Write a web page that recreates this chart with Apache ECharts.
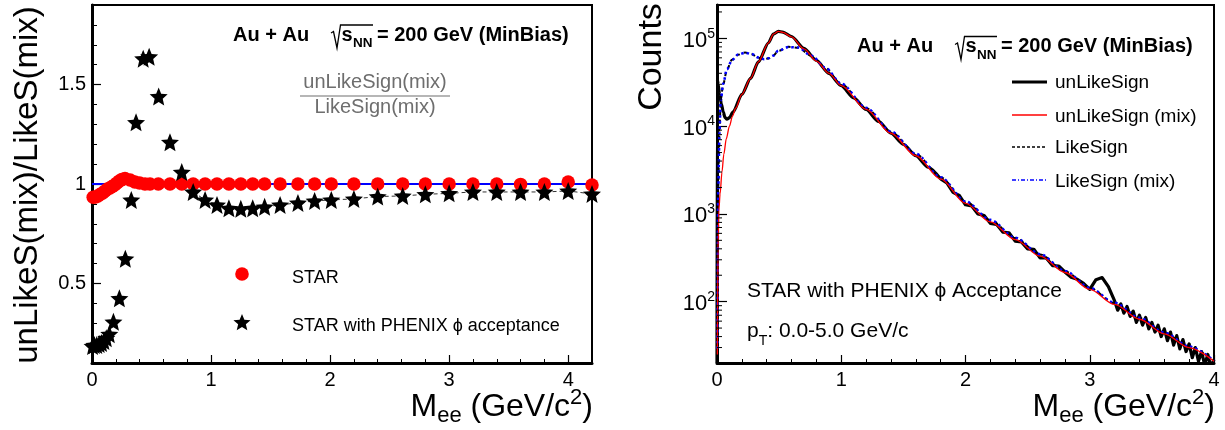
<!DOCTYPE html>
<html><head><meta charset="utf-8">
<script src="https://cdn.jsdelivr.net/npm/echarts@6/dist/echarts.min.js"></script>
<style>html,body{margin:0;padding:0;background:#fff;}#c{width:1225px;height:430px;}</style>
</head><body><div id="c"></div>
<script>
// ---------- LEFT PANEL: unLikeS(mix)/LikeS(mix) ----------
const starMass  = [0.01,0.03,0.05,0.07,0.09,0.11,0.13,0.15,0.17,0.19,0.21,0.23,0.25,0.277,0.32,0.36,0.40,0.445,0.487,0.557,0.655,0.754,0.85,0.95,1.05,1.15,1.25,1.35,1.45,1.58,1.73,1.87,2.01,2.2,2.4,2.61,2.8,3.0,3.2,3.4,3.6,3.8,4.0,4.2];
const starRatio = [0.933,0.935,0.94,0.948,0.955,0.965,0.975,0.98,0.987,0.995,1.005,1.015,1.022,1.028,1.02,1.01,1.005,1.0,1.0,1.0,1.0,1.0,1.0,1.0,1.0,1.0,1.0,1.0,1.0,1.0,1.0,1.0,1.0,1.0,1.0,1.0,1.0,1.0,1.0,1.0,0.998,1.0,1.01,0.995];
const phxMass  = [0.005,0.02,0.04,0.06,0.08,0.10,0.12,0.145,0.18,0.23,0.28,0.33,0.37,0.43,0.48,0.56,0.655,0.754,0.85,0.95,1.05,1.15,1.25,1.35,1.45,1.58,1.73,1.87,2.01,2.2,2.4,2.61,2.8,3.0,3.2,3.4,3.6,3.8,4.0,4.2];
const phxRatio = [0.185,0.19,0.19,0.195,0.2,0.21,0.225,0.245,0.307,0.425,0.624,0.92,1.31,1.63,1.64,1.44,1.21,1.06,0.96,0.92,0.895,0.878,0.875,0.878,0.885,0.895,0.905,0.915,0.92,0.925,0.937,0.94,0.948,0.953,0.96,0.96,0.96,0.96,0.965,0.95];
const fitMass  = [0, 4.2];
const fitRatio = [1.0, 1.0];
const leftXMajor = [0,1,2,3,4];
const leftXMinor = [0.2,0.4,0.6,0.8,1.2,1.4,1.6,1.8,2.2,2.4,2.6,2.8,3.2,3.4,3.6,3.8];
const leftYMajor = [0.5,1,1.5];
const leftYMinor = [0.2,0.3,0.4,0.6,0.7,0.8,0.9,1.1,1.2,1.3,1.4,1.6,1.7,1.8];

// ---------- RIGHT PANEL: Counts vs Mee ----------
const unlikeMass = [0,0.002,0.01,0.02,0.035,0.05,0.065,0.08,0.1,0.13,0.2,0.27,0.333,0.414,0.454,0.494,0.53,0.6,0.7,0.8,0.9,1.0,1.1,1.2,1.3,1.4,1.5,1.6,1.7,1.8];
const unlikeCounts = [20,34000,30000,23000,18000,14500,12500,12000,12500,14500,23000,35000,54000,89000,112000,120000,118000,105000,77000,56000,40000,29000,21000,15500,11300,8300,6200,4600,3400,2500];
const unlikeTailMass = [1.8,1.85,1.9,1.95,2.0,2.05,2.1,2.15,2.2,2.25,2.3,2.35,2.4,2.45,2.5,2.55,2.6,2.65,2.7,2.75,2.8,2.85,2.9,2.95,3.0,3.05,3.1,3.15,
  3.2,3.225,3.25,3.275,3.3,3.325,3.35,3.375,3.4,3.425,3.45,3.475,3.5,3.525,3.55,3.575,3.6,3.625,3.65,3.675,3.7,3.725,3.75,3.775,3.8,3.825,3.85,3.875,3.9,3.925,3.95,3.975,4.0];
const unlikeTailCounts = [2500,2250,1760,1620,1270,1230,1000,960,780,760,620,610,490,480,400,395,315,315,258,255,218,190,180,162,138,178,188,148,
  102,80,94,74,88,68,78,58,70,54,66,49,58,45,54,40,49,36,45,32,41,29,37,27,33,23,30,21,27,19,25,18,22];
const mixMass   = [0.003,0.008,0.015,0.025,0.04,0.055,0.075,0.1,0.125,0.15,0.2,0.27,0.333,0.414,0.454,0.494,0.53,0.6,0.7,0.8,0.9,1.0,1.2,1.4,1.6,1.8,2.0,2.2,2.4,2.6,2.8,3.0,3.2,3.4,3.6,3.8,4.0];
const mixCounts = [25,400,1100,1700,3000,4800,7200,10000,13000,16000,23000,35000,54000,89000,112000,120000,117000,104000,76000,55000,40000,29000,15500,8300,4600,2500,1320,810,510,330,215,138,93,63,43,30,21];
const likeMass  = [0.003,0.01,0.02,0.03,0.05,0.08,0.12,0.17,0.226,0.28,0.333,0.38,0.414,0.45,0.494,0.575,0.656,0.76,0.87,1.0,1.2,1.4,1.6,1.8,2.0,2.2,2.4,2.6,2.8,3.0,3.2,3.4,3.6,3.8,4.0];
const likeCounts    = [30,2000,9000,20000,30000,44000,57000,65000,69000,66000,60000,58000,59000,63000,72000,80000,78000,63000,46000,30000,16000,8600,4800,2600,1380,850,530,345,222,143,96,65,44,30.5,21];
const likeMixCounts = [28,1800,8500,19500,30500,44500,56500,65500,68500,66500,60500,58000,59500,63500,72500,79500,78500,63500,46500,30500,16200,8700,4850,2620,1390,855,535,348,224,144,97,65.5,44.5,30.8,21.2];
const rightYMinor = [30,40,50,60,70,80,90,200,300,400,500,600,700,800,900,2000,3000,4000,5000,6000,7000,8000,9000,20000,30000,40000,50000,60000,70000,80000,90000,200000];

const FONT = "'Liberation Sans', Arial, Helvetica, sans-serif";
const pairs = (xs, ys) => xs.map((x, i) => [x, ys[i]]);
const STAR_PTS = [[50,0],[63.2,31.8],[97.6,34.5],[71.4,57],[79.4,90.5],[50,72.5],[20.6,90.5],[28.6,57],[2.4,34.5],[36.8,31.8]];
const STAR_D = 'M' + STAR_PTS.map(p => p[0] + ',' + p[1]).join(' L') + ' Z';

const chart = echarts.init(document.getElementById('c'), null, {renderer: 'canvas'});

function majorLin(gridIndex, min, max, ticks, len, pos, margin) {
  return {
    type: 'value', gridIndex, min, max, position: pos,
    axisLine: {show: true, onZero: false, lineStyle: {color: '#000', width: 3}},
    axisTick: {show: true, inside: true, length: len, customValues: ticks, lineStyle: {color: '#000', width: 1.2}},
    axisLabel: {show: true, customValues: ticks, formatter: v => String(v), fontSize: 20, fontFamily: FONT, color: '#000', margin: margin},
    splitLine: {show: false}
  };
}
function minorLin(gridIndex, min, max, ticks, len, pos) {
  return {
    type: 'value', gridIndex, min, max, position: pos,
    axisLine: {show: false, onZero: false},
    axisTick: {show: true, inside: true, length: len, customValues: ticks, lineStyle: {color: '#000', width: 1}},
    axisLabel: {show: false}, splitLine: {show: false}
  };
}

function header(dx, dy) {
  const t = (x, y, text, size) => ({type: 'text', x: x + dx, y: y + dy, z: 10,
    style: {text, fontSize: size, fontWeight: 'bold', fontFamily: FONT, fill: '#000', align: 'left', verticalAlign: 'middle'}});
  return [
    t(233, 35, 'Au + Au', 20),
    {type: 'polyline', z: 10, shape: {points: [[331 + dx, 33 + dy], [333.5 + dx, 31.5 + dy], [337 + dx, 48 + dy], [340.5 + dx, 25 + dy], [373 + dx, 25 + dy]]},
      style: {stroke: '#000', lineWidth: 1.3, fill: null}},
    t(341.5, 35, 's', 20),
    t(353, 43.3, 'NN', 13.5),
    t(377, 35, '= 200 GeV (MinBias)', 20)
  ];
}
const titleRich = {
  m: {fontSize: 32, lineHeight: 40, fontFamily: FONT, fill: '#000', verticalAlign: 'middle'},
  s: {fontSize: 22, lineHeight: 22, fontFamily: FONT, fill: '#000', verticalAlign: 'bottom'},
  p: {fontSize: 22, lineHeight: 22, fontFamily: FONT, fill: '#000', verticalAlign: 'top'}
};
const xTitle = x => ({type: 'text', x: x, y: 407, z: 10,
  style: {text: '{m|M}{s|ee}{m| (GeV/c}{p|2}{m|)}', rich: titleRich, align: 'right', verticalAlign: 'middle'}});
const txt = (x, y, text, size, fill) => ({type: 'text', x, y, z: 10,
  style: {text, fontSize: size, fontFamily: FONT, fill: fill || '#000', align: 'left', verticalAlign: 'middle'}});

const graphics = [].concat(
  header(0, 0), header(624, 11.5),
  [
    xTitle(593), xTitle(1215),
    {type: 'text', x: 28, y: 185, rotation: Math.PI / 2, z: 10,
      style: {text: 'unLikeS(mix)/LikeS(mix)', fontSize: 33, fontFamily: FONT, fill: '#000', align: 'center', verticalAlign: 'middle'}},
    {type: 'text', x: 652, y: 57, rotation: Math.PI / 2, z: 10,
      style: {text: 'Counts', fontSize: 34, fontFamily: FONT, fill: '#000', align: 'center', verticalAlign: 'middle'}},
    // fraction
    {type: 'text', x: 375, y: 82, z: 10, style: {text: 'unLikeSign(mix)', fontSize: 20, fontFamily: FONT, fill: '#6e6e6e', align: 'center', verticalAlign: 'middle'}},
    {type: 'line', z: 10, shape: {x1: 300, y1: 96, x2: 450, y2: 96}, style: {stroke: '#6e6e6e', lineWidth: 1.2}},
    {type: 'text', x: 375, y: 107, z: 10, style: {text: 'LikeSign(mix)', fontSize: 20, fontFamily: FONT, fill: '#6e6e6e', align: 'center', verticalAlign: 'middle'}},
    // left legend
    {type: 'circle', z: 10, shape: {cx: 242, cy: 274, r: 6.8}, style: {fill: '#ff0000'}},
    txt(292, 278, 'STAR', 18),
    {type: 'polygon', z: 10, shape: {points: STAR_PTS.map(p => [233 + p[0] * 0.18, 314 + p[1] * 0.18])}, style: {fill: '#000'}},
    txt(292, 326, 'STAR with PHENIX \u03d5 acceptance', 18),
    // right legend
    {type: 'line', z: 10, shape: {x1: 1012, y1: 82, x2: 1047, y2: 82}, style: {stroke: '#000', lineWidth: 3}},
    {type: 'line', z: 10, shape: {x1: 1012, y1: 115, x2: 1047, y2: 115}, style: {stroke: '#ff0000', lineWidth: 1.3}},
    {type: 'line', z: 10, shape: {x1: 1012, y1: 147, x2: 1047, y2: 147}, style: {stroke: '#000', lineWidth: 1.5, lineDash: [3, 2]}},
    {type: 'line', z: 10, shape: {x1: 1012, y1: 180, x2: 1047, y2: 180}, style: {stroke: '#0000ff', lineWidth: 1.5, lineDash: [4, 2, 1, 2]}},
    txt(1055, 83, 'unLikeSign', 19),
    txt(1055, 116.5, 'unLikeSign (mix)', 19),
    txt(1055, 148, 'LikeSign', 19),
    txt(1055, 181.5, 'LikeSign (mix)', 19),
    // right annotations
    txt(747, 291.5, 'STAR with PHENIX \u03d5 Acceptance', 21),
    {type: 'text', x: 747, y: 331, z: 10, style: {text: '{m|p}{s|T}{m|: 0.0-5.0 GeV/c}', align: 'left', verticalAlign: 'middle',
      rich: {m: {fontSize: 21, lineHeight: 34, fontFamily: FONT, fill: '#000', verticalAlign: 'middle'},
             s: {fontSize: 14, lineHeight: 14, fontFamily: FONT, fill: '#000', verticalAlign: 'bottom'}}}}
  ]
);

const option = {
  animation: false,
  backgroundColor: '#fff',
  grid: [
    {left: 92, top: 5, width: 500, height: 358, show: true, borderColor: '#000', borderWidth: 2, containLabel: false},
    {left: 717, top: 5, width: 497, height: 358, show: true, borderColor: '#000', borderWidth: 2, containLabel: false}
  ],
  xAxis: [
    majorLin(0, 0, 4.2, leftXMajor, 8, 'bottom', 7),
    minorLin(0, 0, 4.2, leftXMinor, 4, 'bottom'),
    {type: 'value', gridIndex: 1, min: 0, max: 4, interval: 1, position: 'bottom',
      axisLine: {show: true, onZero: false, lineStyle: {color: '#000', width: 3}},
      axisTick: {show: true, inside: true, length: 8, lineStyle: {color: '#000', width: 1.2}},
      minorTick: {show: true, splitNumber: 5, length: 4, lineStyle: {color: '#000', width: 1}},
      axisLabel: {formatter: v => String(v), fontSize: 20, fontFamily: FONT, color: '#000', margin: 7},
      splitLine: {show: false}, minorSplitLine: {show: false}}
  ],
  yAxis: [
    majorLin(0, 0.1, 1.9, leftYMajor, 9, 'left', 6),
    minorLin(0, 0.1, 1.9, leftYMinor, 5, 'left'),
    {type: 'log', logBase: 10, gridIndex: 1, min: 20, max: 240000, position: 'left',
      axisLine: {show: true, onZero: false, lineStyle: {color: '#000', width: 3}},
      axisTick: {show: true, inside: true, length: 10, lineStyle: {color: '#000', width: 1.2}},
      axisLabel: {showMinLabel: false, showMaxLabel: false, fontSize: 22, fontFamily: FONT, color: '#000', margin: 2,
        lineHeight: 28, padding: [5, 0, 0, 0],
        formatter: v => { const e = Math.log10(v); if (Math.abs(e - Math.round(e)) > 1e-6) return ''; return '10{sup|' + Math.round(e) + '}'; },
        rich: {sup: {fontSize: 14, lineHeight: 14, verticalAlign: 'top', fontFamily: FONT, color: '#000'}}},
      splitLine: {show: false}}
  ],
  series: [
    {name: 'fit', type: 'line', xAxisIndex: 0, yAxisIndex: 0, data: pairs(fitMass, fitRatio), symbol: 'none',
      lineStyle: {color: '#0000ff', width: 2}, z: 2},
    {name: 'STAR', type: 'scatter', xAxisIndex: 0, yAxisIndex: 0, data: pairs(starMass, starRatio), symbol: 'circle', symbolSize: 13.5,
      itemStyle: {color: '#ff0000', opacity: 1}, z: 3},
    {name: 'PHENIX trend', type: 'line', xAxisIndex: 0, yAxisIndex: 0,
      data: pairs(phxMass, phxRatio).filter(d => d[0] >= 0.85), symbol: 'none',
      lineStyle: {color: '#333', width: 1, type: [4, 3]}, z: 3},
    {name: 'STAR with PHENIX acceptance', type: 'scatter', xAxisIndex: 0, yAxisIndex: 0, data: pairs(phxMass, phxRatio),
      symbol: 'path://' + STAR_D, symbolSize: 18, itemStyle: {color: '#000', opacity: 1}, z: 4},

    {name: 'unLikeSign', type: 'line', xAxisIndex: 2, yAxisIndex: 2, data: pairs(unlikeMass, unlikeCounts), symbol: 'none',
      smooth: 0.25, smoothMonotone: 'x', lineStyle: {color: '#000', width: 3.2}, z: 2},
    {name: 'unLikeSign', type: 'line', xAxisIndex: 2, yAxisIndex: 2, data: pairs(unlikeTailMass, unlikeTailCounts), symbol: 'none',
      lineStyle: {color: '#000', width: 3.2, join: 'round'}, z: 2},
    {name: 'LikeSign', type: 'line', xAxisIndex: 2, yAxisIndex: 2, data: pairs(likeMass, likeCounts), symbol: 'none',
      smooth: 0.3, smoothMonotone: 'x', lineStyle: {color: '#000', width: 2, type: [4, 4]}, z: 3},
    {name: 'LikeSign (mix)', type: 'line', xAxisIndex: 2, yAxisIndex: 2, data: pairs(likeMass, likeMixCounts), symbol: 'none',
      smooth: 0.3, smoothMonotone: 'x', lineStyle: {color: '#0000ff', width: 2.5, type: [2.5, 3], dashOffset: 4}, z: 4},
    {name: 'unLikeSign (mix)', type: 'line', xAxisIndex: 2, yAxisIndex: 2, data: pairs(mixMass, mixCounts), symbol: 'none',
      smooth: 0.3, smoothMonotone: 'x', lineStyle: {color: '#ff0000', width: 1.3}, z: 5},
    {name: 'minorLogTicks', type: 'custom', xAxisIndex: 2, yAxisIndex: 2, silent: true, z: 6,
      data: rightYMinor.map(v => [0, v]),
      renderItem: (params, api) => {
        const p = api.coord([api.value(0), api.value(1)]);
        return {type: 'line', shape: {x1: p[0], y1: p[1], x2: p[0] + 5, y2: p[1]}, style: {stroke: '#000', lineWidth: 1}};
      }}
  ],
  graphic: {elements: graphics}
};
chart.setOption(option);
</script></body></html>
